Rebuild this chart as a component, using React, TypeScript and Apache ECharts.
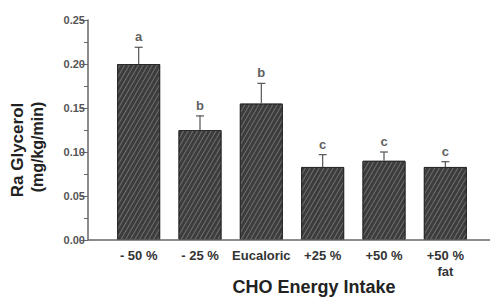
import React, { useEffect, useRef } from "react";
import * as echarts from "echarts";

const categories = ["- 50 %", "- 25 %", "Eucaloric", "+25 %", "+50 %", "+50 %\nfat"];
const means = [0.2, 0.125, 0.155, 0.083, 0.09, 0.083];
const errors = [0.019, 0.016, 0.023, 0.014, 0.01, 0.006];
const letters = ["a", "b", "b", "c", "c", "c"];
const yTitle1 = "Ra Glycerol";
const yTitle2 = "(mg/kg/min)";
const xTitle = "CHO Energy Intake";

export default function App() {
  const ref = useRef<HTMLDivElement>(null);
  useEffect(() => {
    if (!ref.current) return;
    const chart = echarts.init(ref.current, null, { renderer: "svg" });
    const font = "Liberation Sans, Arial, sans-serif";
    chart.setOption({
      animation: false,
      backgroundColor: "#fff",
      grid: { left: 108, right: 14, top: 20, bottom: 57 },
      xAxis: {
        type: "category",
        data: categories,
        axisLine: { show: false },
        axisTick: { show: false },
        axisLabel: {
          color: "#333",
          fontFamily: font,
          fontWeight: "bold",
          fontSize: 13,
          margin: 7,
          lineHeight: 16,
          interval: 0,
        },
      },
      yAxis: {
        type: "value",
        min: 0,
        max: 0.25,
        interval: 0.05,
        offset: 20,
        splitLine: { show: false },
        axisLine: { show: true, lineStyle: { color: "#666", width: 1.5 } },
        axisTick: { show: true, length: 7, lineStyle: { color: "#666" } },
        minorTick: { show: true, splitNumber: 2, length: 4, lineStyle: { color: "#666" } },
        axisLabel: {
          color: "#555",
          fontFamily: font,
          fontWeight: "bold",
          fontSize: 11,
          margin: 3,
          formatter: (v: number) => v.toFixed(2),
        },
      },
      series: [
        {
          type: "bar",
          data: means,
          barWidth: 43,
          itemStyle: {
            color: "#3c3c3c",
            borderColor: "#2a2a2a",
            borderWidth: 1,
            decal: {
              symbol: "rect",
              symbolSize: 1,
              rotation: -Math.PI / 3,
              dashArrayX: [1, 0],
              dashArrayY: [1, 2.5],
              color: "rgba(150,150,150,0.55)",
            },
          },
          z: 2,
        },
        {
          type: "custom",
          data: means.map((m, i) => [i, m, m + errors[i]]),
          renderItem: (params: any, api: any) => {
            const i = api.value(0);
            const p0 = api.coord([i, api.value(1)]);
            const p1 = api.coord([i, api.value(2)]);
            const cap = 4;
            return {
              type: "group",
              children: [
                { type: "line", shape: { x1: p0[0], y1: p0[1], x2: p1[0], y2: p1[1] }, style: { stroke: "#555", lineWidth: 1.2 } },
                { type: "line", shape: { x1: p1[0] - cap, y1: p1[1], x2: p1[0] + cap, y2: p1[1] }, style: { stroke: "#555", lineWidth: 1.2 } },
              ],
            };
          },
          z: 3,
        },
        {
          type: "scatter",
          data: means.map((m, i) => [i, m + errors[i]]),
          symbolSize: 0,
          label: {
            show: true,
            position: "top",
            distance: 4,
            formatter: (p: any) => letters[p.dataIndex],
            color: "#333",
            fontFamily: font,
            fontWeight: "bold",
            fontSize: 13,
          },
          z: 4,
        },
      ],
      graphic: [
        { type: "line", shape: { x1: 88, y1: 240, x2: 490, y2: 240 }, style: { stroke: "#666", lineWidth: 1.5 }, z: 10 },
        {
          type: "text",
          x: 314,
          y: 287,
          style: { text: xTitle, fill: "#222", font: `bold 18px ${font}`, textAlign: "center", textVerticalAlign: "middle" },
        },
        {
          type: "text",
          x: 17,
          y: 150,
          rotation: Math.PI / 2,
          style: { text: yTitle1, fill: "#222", font: `bold 17px ${font}`, textAlign: "center", textVerticalAlign: "middle" },
        },
        {
          type: "text",
          x: 37,
          y: 147,
          rotation: Math.PI / 2,
          style: { text: yTitle2, fill: "#222", font: `bold 16px ${font}`, textAlign: "center", textVerticalAlign: "middle" },
        },
      ],
    });
    return () => chart.dispose();
  }, []);
  return <div ref={ref} style={{ width: 490, height: 297, position: "absolute", left: 0, top: 0 }} />;
}
